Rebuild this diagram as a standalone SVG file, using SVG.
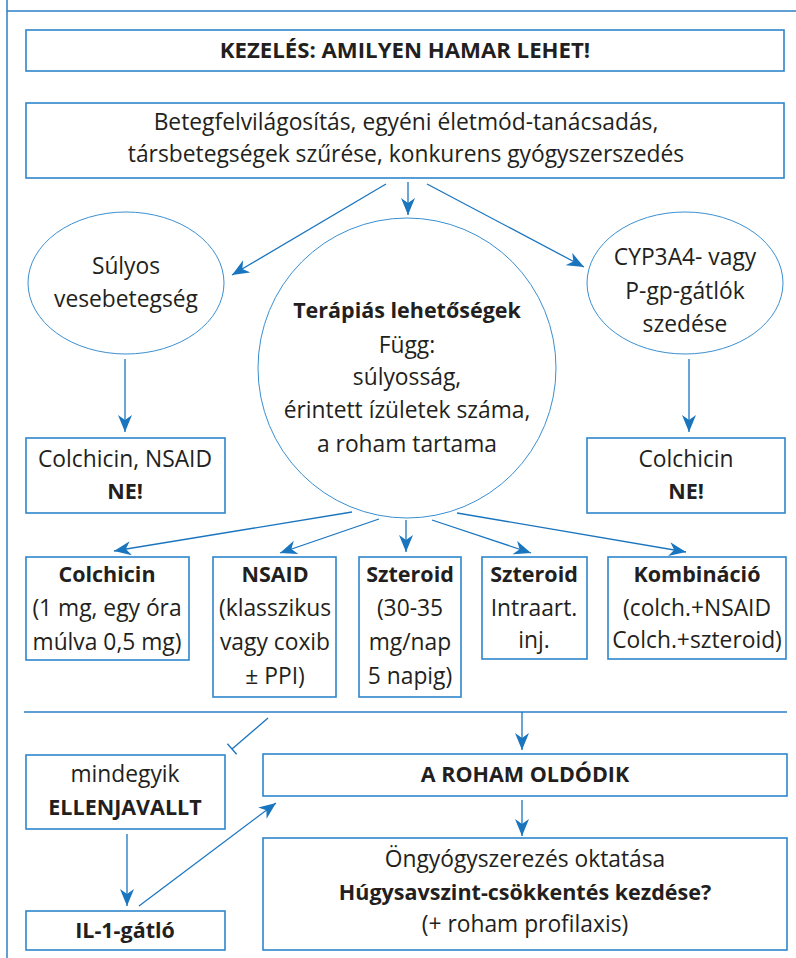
<svg xmlns="http://www.w3.org/2000/svg" width="796" height="958" viewBox="0 0 796 958">
<style>
.frame{fill:none;stroke:#2a7fc4;stroke-width:1.5}
.box{fill:#fff;stroke:#2f86cc;stroke-width:1.6}
.ell{fill:#fff;stroke:#3a8fd0;stroke-width:1}
.con{fill:none;stroke:#1a75bf;stroke-width:1.3}
text{font-family:"Open Sans","Noto Sans","Liberation Sans",sans-serif;font-size:22.8px;fill:#231f20;text-anchor:middle}
.b{font-weight:bold;font-size:21.5px}
</style>
<defs>
<marker id="ah" markerUnits="userSpaceOnUse" markerWidth="18" markerHeight="15" refX="17" refY="7" orient="auto">
<path d="M0,0 L17,7 L0,14 L5,7 Z" fill="#1a75bf"/>
</marker>
</defs>
<g id="frame">
<line class="frame" x1="7" y1="0" x2="7" y2="958"/>
<line class="frame" x1="7" y1="11" x2="796" y2="11"/>
<line class="frame" x1="24" y1="712" x2="787" y2="712"/>
</g>
<g id="n-title"><rect class="box" x="26" y="30" width="758" height="41"/><text class="b" x="405" y="58" style="font-size:22.2px">KEZELÉS: AMILYEN HAMAR LEHET!</text></g>
<g id="n-info"><rect class="box" x="26" y="103" width="758" height="75"/><text x="406" y="130">Betegfelvilágosítás, egyéni életmód-tanácsadás,</text><text x="406" y="162">társbetegségek szűrése, konkurens gyógyszerszedés</text></g>
<g id="n-vese"><ellipse class="ell" cx="126" cy="283" rx="98" ry="71"/><text x="126" y="274">Súlyos</text><text x="126" y="307">vesebetegség</text></g>
<g id="n-ther"><ellipse class="ell" cx="407" cy="368" rx="149" ry="150"/><text class="b" x="407" y="318">Terápiás lehetőségek</text><text x="407" y="353">Függ:</text><text x="407" y="385">súlyosság,</text><text x="407" y="418">érintett ízületek száma,</text><text x="407" y="452">a roham tartama</text></g>
<g id="n-cyp"><ellipse class="ell" cx="685" cy="283" rx="98" ry="71"/><text x="685" y="265">CYP3A4- vagy</text><text x="685" y="299">P-gp-gátlók</text><text x="685" y="332">szedése</text></g>
<g id="n-ne1"><rect class="box" x="26" y="438" width="199" height="75"/><text x="125" y="467">Colchicin, NSAID</text><text class="b" x="125" y="499">NE!</text></g>
<g id="n-ne2"><rect class="box" x="587" y="438" width="198" height="75"/><text x="686" y="467">Colchicin</text><text class="b" x="686" y="499">NE!</text></g>
<g id="n-colch"><rect class="box" x="26" y="557" width="163" height="103"/><text class="b" x="107" y="582">Colchicin</text><text x="107" y="616">(1 mg, egy óra</text><text x="107" y="650">múlva 0,5 mg)</text></g>
<g id="n-nsaid"><rect class="box" x="213" y="557" width="123" height="140"/><text class="b" x="275" y="582">NSAID</text><text x="275" y="616">(klasszikus</text><text x="275" y="650">vagy coxib</text><text x="275" y="684">± PPI)</text></g>
<g id="n-szt"><rect class="box" x="359" y="557" width="102" height="140"/><text class="b" x="410" y="582">Szteroid</text><text x="410" y="616">(30-35</text><text x="410" y="650">mg/nap</text><text x="410" y="684">5 napig)</text></g>
<g id="n-szt2"><rect class="box" x="482" y="557" width="105" height="102"/><text class="b" x="534" y="582">Szteroid</text><text x="534" y="616">Intraart.</text><text x="534" y="648">inj.</text></g>
<g id="n-komb"><rect class="box" x="608" y="557" width="178" height="102"/><text class="b" x="697" y="582">Kombináció</text><text x="697" y="616">(colch.+NSAID</text><text x="697" y="648">Colch.+szteroid)</text></g>
<g id="n-ellen"><rect class="box" x="26" y="755" width="199" height="74"/><text x="125" y="782">mindegyik</text><text class="b" x="125" y="815">ELLENJAVALLT</text></g>
<g id="n-il1"><rect class="box" x="26" y="911" width="199" height="39"/><text class="b" x="125" y="938">IL-1-gátló</text></g>
<g id="n-old"><rect class="box" x="263" y="754" width="524" height="42"/><text class="b" x="525" y="782">A ROHAM OLDÓDIK</text></g>
<g id="n-hugy"><rect class="box" x="263" y="838" width="524" height="112"/><text x="525" y="867">Öngyógyszerezés oktatása</text><text class="b" x="525" y="900">Húgysavszint-csökkentés kezdése?</text><text x="525" y="932">(+ roham profilaxis)</text></g>
<g id="connectors">
<line class="con" x1="408" y1="182" x2="408" y2="215" marker-end="url(#ah)"/>
<line class="con" x1="386" y1="184" x2="232" y2="275" marker-end="url(#ah)"/>
<line class="con" x1="427" y1="184" x2="584" y2="267" marker-end="url(#ah)"/>
<line class="con" x1="125" y1="359" x2="125" y2="432" marker-end="url(#ah)"/>
<line class="con" x1="689" y1="359" x2="689" y2="432" marker-end="url(#ah)"/>
<line class="con" x1="352" y1="512" x2="114" y2="551" marker-end="url(#ah)"/>
<line class="con" x1="379" y1="519" x2="280" y2="553" marker-end="url(#ah)"/>
<line class="con" x1="406" y1="520" x2="406" y2="552" marker-end="url(#ah)"/>
<line class="con" x1="432" y1="520" x2="531" y2="553" marker-end="url(#ah)"/>
<line class="con" x1="457" y1="513" x2="686" y2="552" marker-end="url(#ah)"/>
<line class="con" x1="522" y1="712" x2="522" y2="750" marker-end="url(#ah)"/>
<line class="con" x1="268" y1="718" x2="232" y2="749"/>
<line class="con" x1="227.4" y1="743.7" x2="236.6" y2="754.3"/>
<line class="con" x1="127" y1="834" x2="127" y2="906" marker-end="url(#ah)"/>
<line class="con" x1="139" y1="906" x2="276" y2="803" marker-end="url(#ah)"/>
<line class="con" x1="522" y1="800" x2="522" y2="836" marker-end="url(#ah)"/>
</g>
</svg>
